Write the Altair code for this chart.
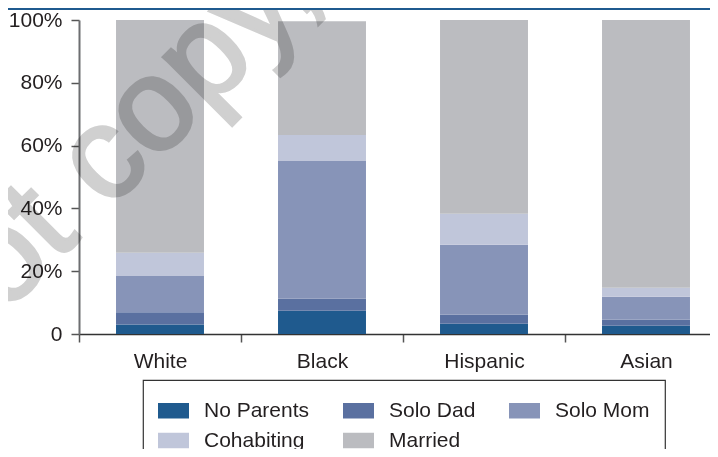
import altair as alt
import pandas as pd

groups = ["White", "Black", "Hispanic", "Asian"]
types = ["No Parents", "Solo Dad", "Solo Mom", "Cohabiting", "Married"]
no_parents = [3.0, 7.4, 3.3, 2.6]
solo_dad = [3.9, 3.8, 2.8, 1.9]
solo_mom = [11.6, 43.9, 22.3, 7.4]
cohabiting = [7.4, 8.3, 9.9, 2.8]
married = [74.1, 36.2, 61.7, 85.3]
colors = ["#1f5a8e", "#5a70a0", "#8794b8", "#c0c6da", "#bbbcc0"]
y_ticks = [0, 0.2, 0.4, 0.6, 0.8, 1.0]
watermark = ["Do not copy,"]

series = [no_parents, solo_dad, solo_mom, cohabiting, married]
rows = []
for i, g in enumerate(groups):
    for j, t in enumerate(types):
        rows.append({"group": g, "type": t, "rank": j, "share": series[j][i] / 100.0})
df = pd.DataFrame(rows)

FONT = "Liberation Sans"
TXT = "#231f20"

bars = alt.Chart(df).mark_bar(width=alt.RelativeBandSize(0.543)).encode(
    x=alt.X(
        "group:N",
        sort=groups,
        scale=alt.Scale(domain=groups, range=[0, 648], paddingInner=0, paddingOuter=0),
        axis=alt.Axis(
            title=None, labelAngle=0, tickBand="extent", tickSize=8, tickWidth=1.5,
            tickColor="#555555", domainColor="#333333", domainWidth=1.5,
            labelFont=FONT, labelFontSize=21, labelColor=TXT, labelPadding=8,
        ),
    ),
    y=alt.Y(
        "share:Q",
        stack="zero",
        scale=alt.Scale(domain=[0, 1], nice=False),
        axis=alt.Axis(
            title=None, values=y_ticks, grid=False,
            labelExpr="datum.value == 0 ? '0' : format(datum.value, '.0%')",
            tickSize=8, tickWidth=1.5, tickColor="#555555",
            domainColor="#6d6e71", domainWidth=2,
            labelFont=FONT, labelFontSize=21, labelColor=TXT, labelPadding=9,
        ),
    ),
    color=alt.Color(
        "type:N",
        sort=types,
        scale=alt.Scale(domain=types, range=colors),
        legend=alt.Legend(
            title=None, orient="none", legendX=64, legendY=360,
            direction="horizontal", columns=3,
            symbolType="M-1,-0.5H1V0.5H-1Z", symbolSize=961, symbolStrokeWidth=0,
            symbolOpacity=1,
            labelFont=FONT, labelFontSize=21, labelColor=TXT, labelOffset=15,
            labelLimit=400, columnPadding=33, rowPadding=4, padding=15,
            strokeColor="#333333", fillColor="white",
        ),
    ),
    order=alt.Order("rank:Q", sort="ascending"),
)

mark_wm = alt.Chart(pd.DataFrame({"t": watermark})).mark_text(
    angle=315, align="left", baseline="alphabetic", fontSize=132, font=FONT,
    fill="#d0d0d0", stroke="#d0d0d0", strokeWidth=3, blend="multiply",
).encode(text="t:N", x=alt.value(-272), y=alt.value(492))

top_line = alt.Chart(pd.DataFrame({"t": watermark})).mark_rule(
    color="#1f5a8f", strokeWidth=2
).encode(x=alt.value(-71), x2=alt.value(648), y=alt.value(-11))

chart = alt.layer(bars, mark_wm, top_line).properties(
    width=631,
    height=314,
    autosize=alt.AutoSizeParams(type="none"),
    padding={"left": 71, "top": 12, "right": 0, "bottom": 115},
).configure_view(stroke=None).configure_legend(strokeWidth=1.2)

chart.save("out.html", embed_options={"renderer": "svg", "actions": False})
